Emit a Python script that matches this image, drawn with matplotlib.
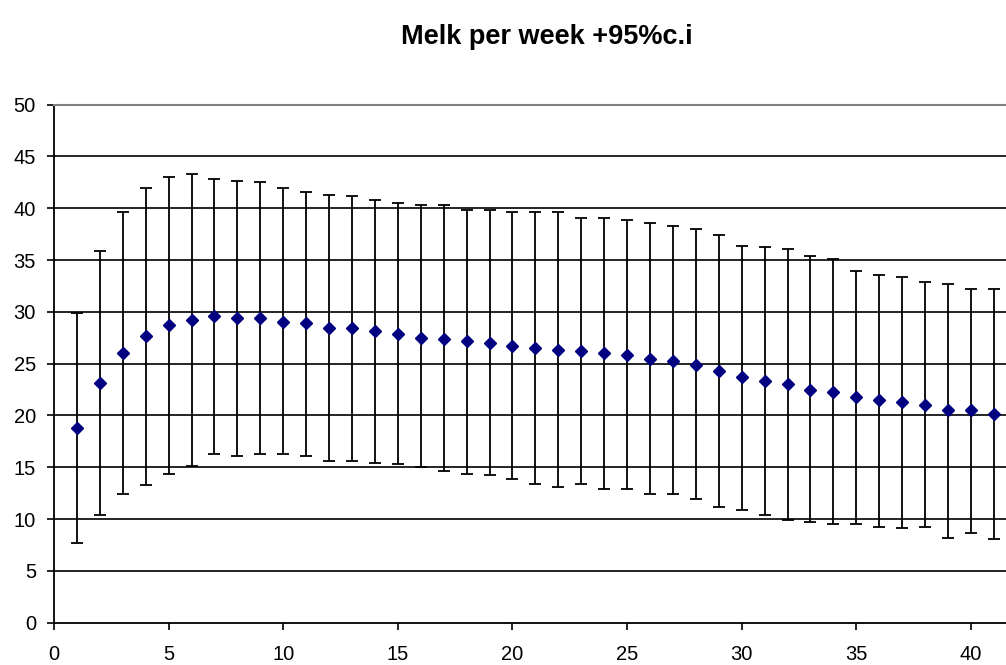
import numpy as np
import matplotlib
matplotlib.use("Agg")
from matplotlib import pyplot as plt

# weekly milk yield: mean with lower/upper 95% confidence bounds
weeks = list(range(1, 42))
mean = [18.8, 23.1, 26.0, 27.7, 28.7, 29.2, 29.6, 29.4, 29.4, 29.0,
        28.9, 28.4, 28.4, 28.2, 27.9, 27.5, 27.4, 27.2, 27.0, 26.7,
        26.5, 26.3, 26.2, 26.0, 25.8, 25.5, 25.3, 24.9, 24.3, 23.7,
        23.3, 23.0, 22.5, 22.3, 21.8, 21.5, 21.3, 21.0, 20.5, 20.5,
        20.1]
upper = [29.9, 35.9, 39.6, 42.0, 43.0, 43.3, 42.8, 42.6, 42.5, 42.0,
         41.6, 41.3, 41.2, 40.8, 40.5, 40.3, 40.3, 39.8, 39.8, 39.6,
         39.6, 39.6, 39.1, 39.1, 38.9, 38.6, 38.3, 38.0, 37.4, 36.4,
         36.3, 36.1, 35.4, 35.1, 33.9, 33.6, 33.4, 32.9, 32.7, 32.2,
         32.2]
lower = [7.7, 10.4, 12.4, 13.3, 14.4, 15.1, 16.3, 16.1, 16.3, 16.3,
         16.1, 15.6, 15.6, 15.4, 15.3, 15.0, 14.6, 14.4, 14.3, 13.9,
         13.4, 13.1, 13.4, 12.9, 12.9, 12.4, 12.4, 11.9, 11.2, 10.9,
         10.4, 9.9, 9.7, 9.5, 9.5, 9.2, 9.1, 9.2, 8.2, 8.7,
         8.1]

mean = np.array(mean)
yerr = [mean - np.array(lower), np.array(upper) - mean]

plt.rcParams['font.family'] = ['Liberation Sans', 'DejaVu Sans']

fig = plt.figure(figsize=(10.06, 6.65), dpi=100)
ax = fig.add_axes([0.0537, 0.0636, 0.957, 0.779])

ax.errorbar(weeks, mean, yerr=yerr, fmt='D', color='#000080',
            markersize=6.2, ecolor='black', elinewidth=1.3, capsize=4.3,
            capthick=1.3, zorder=3)

ax.set_xlim(0, 42)
ax.set_ylim(0, 50)
ax.set_xticks(range(0, 41, 5))
ax.set_yticks(range(0, 51, 5))
for y in range(5, 50, 5):
    ax.axhline(y, color='black', linewidth=1.2, zorder=1)

ax.spines['right'].set_visible(False)
ax.spines['top'].set_color('#808080')
ax.spines['top'].set_linewidth(1.5)
ax.spines['left'].set_linewidth(1.3)
ax.spines['bottom'].set_linewidth(1.3)
ax.tick_params(axis='both', direction='out', length=5, width=1.2,
               labelsize=14.5, colors='black')
ax.tick_params(axis='y', pad=8)
ax.tick_params(axis='x', pad=11)

fig.text(0.5435, 0.945, 'Melk per week +95%c.i', ha='center', va='center',
         fontsize=19.5, fontweight='bold')

plt.savefig("out.png", dpi=100)
